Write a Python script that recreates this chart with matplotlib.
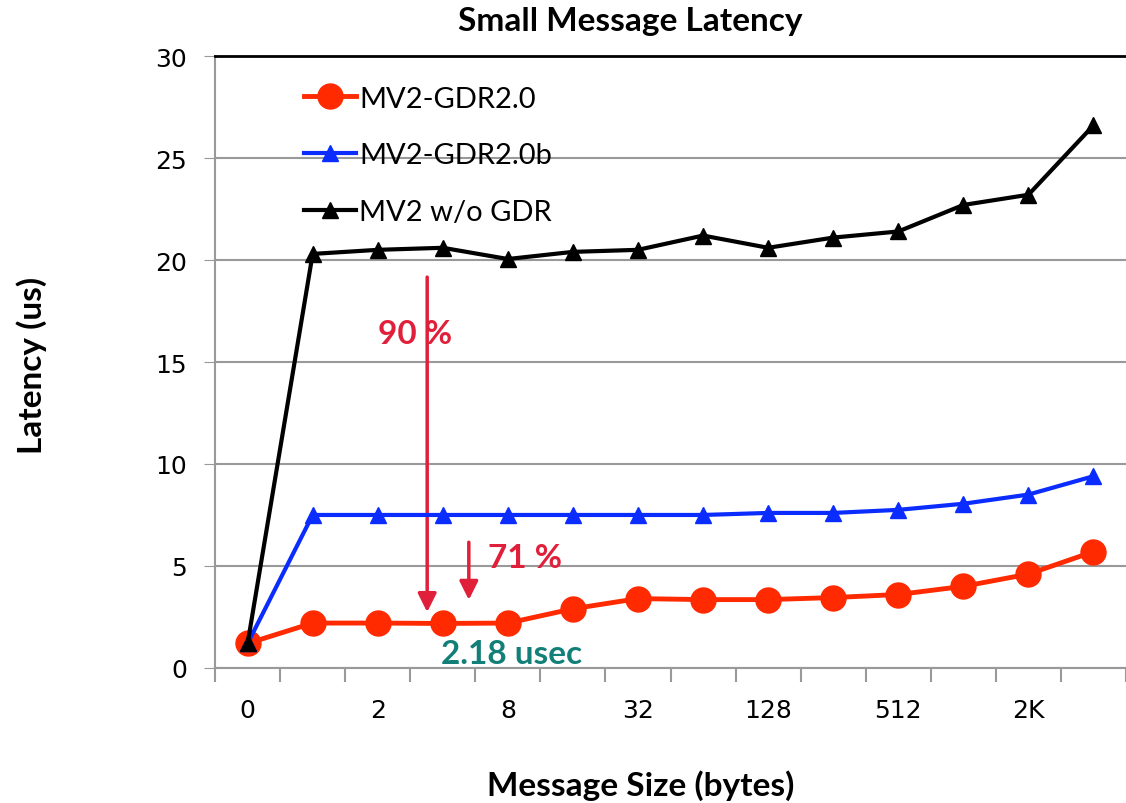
import matplotlib.pyplot as plt

# DATA
sizes = ['0', '1', '2', '4', '8', '16', '32', '64', '128', '256', '512', '1K', '2K', '4K']
gdr20 = [1.2, 2.2, 2.2, 2.18, 2.2, 2.9, 3.4, 3.35, 3.35, 3.45, 3.6, 4.0, 4.6, 5.7]
gdr20b = [1.2, 7.5, 7.5, 7.5, 7.5, 7.5, 7.5, 7.5, 7.6, 7.6, 7.75, 8.05, 8.5, 9.4]
no_gdr = [1.2, 20.3, 20.5, 20.6, 20.05, 20.4, 20.5, 21.2, 20.6, 21.1, 21.4, 22.7, 23.2, 26.6]

x = list(range(len(sizes)))
W, H = 1126, 804

fig = plt.figure(figsize=(11.26, 8.04), dpi=100)
ax = fig.add_axes([0.191, 0.168, 0.809, 0.761])

ax.plot(x, gdr20, color='#ff2a00', marker='o', markersize=18, lw=3.5, label='MV2-GDR2.0', zorder=3)
ax.plot(x, gdr20b, color='#0a2cff', marker='^', markersize=11, lw=3, label='MV2-GDR2.0b', zorder=4)
ax.plot(x, no_gdr, color='black', marker='^', markersize=11, lw=3, label='MV2 w/o GDR', zorder=5)

ax.set_xlim(-0.5, 13.39)
ax.set_ylim(0, 30)
ax.set_yticks(range(0, 31, 5))
ax.tick_params(axis='y', labelsize=18, length=8, color='#999999', pad=12)
ax.grid(axis='y', color='#999999', lw=1.5)
ax.set_axisbelow(True)

# category ticks between points, labels on every other point
ax.set_xticks([i - 0.5 for i in range(15)])
ax.set_xticklabels([])
ax.set_xticks(x[::2], minor=True)
ax.set_xticklabels(sizes[::2], minor=True)
ax.tick_params(axis='x', which='major', length=10, color='#999999', width=1.5)
ax.tick_params(axis='x', which='minor', length=0, labelsize=18, pad=22)
for lbl in ax.get_xticklabels(minor=True) + ax.get_yticklabels():
    lbl.set_family('DejaVu Sans')

for s in ['left', 'bottom']:
    ax.spines[s].set_color('#999999')
    ax.spines[s].set_linewidth(1.5)
ax.spines['right'].set_visible(False)
ax.spines['top'].set_color('black')
ax.spines['top'].set_linewidth(2)

bold = dict(fontweight='bold', family='Lato')
fig.text(630 / W, 1 - 22 / H, 'Small Message Latency', fontsize=24, ha='center', va='center', **bold)
fig.text(641 / W, 1 - 786 / H, 'Message Size (bytes)', fontsize=24, ha='center', va='center', **bold)
fig.text(32 / W, 1 - 365 / H, 'Latency (us)', fontsize=24, ha='center', va='center', rotation=90, **bold)

ax.legend(loc='upper left', frameon=False, labelspacing=1.05,
          handlelength=1.8, handletextpad=0.1, borderaxespad=0.3,
          bbox_to_anchor=(0.075, 0.985), prop={'family': 'Lato', 'size': 21})

# annotations
red = '#e0203a'
ax.annotate('', xy=(2.76, 2.6), xytext=(2.76, 19.3),
            arrowprops=dict(arrowstyle='-|>', color=red, lw=2.5, mutation_scale=28))
ax.text(2.0, 16.4, '90 %', color=red, fontsize=24, va='center', **bold)
ax.annotate('', xy=(3.4, 3.2), xytext=(3.4, 6.3),
            arrowprops=dict(arrowstyle='-|>', color=red, lw=2.5, mutation_scale=28))
ax.text(3.7, 5.4, '71 %', color=red, fontsize=24, va='center', **bold)
ax.text(2.98, 0.7, '2.18 usec', color='#128078', fontsize=24, va='center', **bold)

fig.savefig('out.png', dpi=100)
